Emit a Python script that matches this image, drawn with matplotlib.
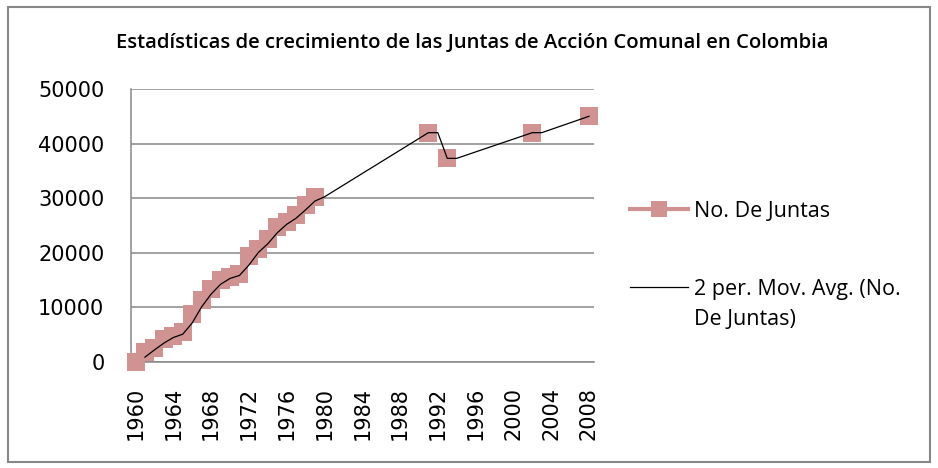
import numpy as np
import matplotlib
matplotlib.use("Agg")
import matplotlib.pyplot as plt
from matplotlib.lines import Line2D
from matplotlib.patches import Rectangle

# ---- data ----
title = "Estadísticas de crecimiento de las Juntas de Acción Comunal en Colombia"
series_label = "No. De Juntas"
ma_label_lines = ["2 per. Mov. Avg. (No.", "De Juntas)"]
obs_years = [1960, 1961, 1962, 1963, 1964, 1965, 1966, 1967, 1968, 1969,
             1970, 1971, 1972, 1973, 1974, 1975, 1976, 1977, 1978, 1979,
             1991, 1993, 2002, 2008]
obs_values = [0, 1780, 2640, 4270, 4700, 5480, 8820, 11400, 13460, 15000,
              15600, 16100, 19380, 20730, 22560, 24760, 25670, 27010, 28720, 30250,
              42000, 37300, 42000, 45000]
all_years = list(range(1960, 2009))
xtick_years = list(range(1960, 2009, 4))
yticks = [0, 10000, 20000, 30000, 40000, 50000]

# ---- series with blanks for years without data ----
full = np.full(len(all_years), np.nan)
for y, v in zip(obs_years, obs_values):
    full[all_years.index(y)] = v

# 2-period moving average (blanks ignored, as Excel does)
ma = np.full(len(all_years), np.nan)
for i in range(1, len(all_years)):
    pair = full[i - 1:i + 1]
    if np.any(~np.isnan(pair)):
        ma[i] = np.nanmean(pair)
ma_mask = ~np.isnan(ma)
ma_years = np.array(all_years)[ma_mask]
ma_vals = ma[ma_mask]

W, H = 938, 468
fig = plt.figure(figsize=(W / 100, H / 100), dpi=100)
fig.patch.set_facecolor("white")

left, right, top, bottom = 130.8, 593.7, 89, 362
ax = fig.add_axes([left / W, 1 - bottom / H, (right - left) / W, (bottom - top) / H])

pink = "#D19292"
grid_c = "#878787"

ax.plot(all_years, full, color=pink, lw=3, marker="s", markersize=13.5,
        markeredgewidth=0, markerfacecolor=pink, clip_on=False, zorder=3)
ax.plot(ma_years, ma_vals, color="black", lw=0.9, clip_on=False, zorder=4)

ax.set_xlim(1959.5, 2008.5)
ax.set_ylim(0, 50000)
ax.set_yticks(yticks)
ax.set_yticklabels([str(v) for v in yticks])
ax.set_xticks(xtick_years)
ax.set_xticklabels([str(v) for v in xtick_years], rotation=90)

ax.yaxis.grid(True, color=grid_c, lw=1.1)
ax.set_axisbelow(True)
for s in ["top", "right"]:
    ax.spines[s].set_visible(False)
for s in ["left", "bottom"]:
    ax.spines[s].set_color(grid_c)
    ax.spines[s].set_linewidth(1.1)
ax.tick_params(axis="both", length=0, labelsize=15, labelcolor="black")
ax.tick_params(axis="y", pad=19)
ax.tick_params(axis="x", pad=18)
for t in ax.get_xticklabels() + ax.get_yticklabels():
    t.set_fontfamily("DejaVu Sans")

fig.text(472 / W, 1 - 43 / H, title, ha="center", va="center",
         fontsize=14.6, fontfamily="Open Sans", fontweight="semibold")

handles = [Line2D([], [], color=pink, lw=3, marker="s", markersize=12,
                  markeredgewidth=0),
           Line2D([], [], color="black", lw=0.9)]
leg_font = {"family": "Open Sans", "size": 15.5}
leg = fig.legend(handles, [series_label, ma_label_lines[0]], loc="upper left",
                 bbox_to_anchor=(630 / W, 1 - 201 / H), frameon=False,
                 prop=leg_font,
                 handlelength=2.7, handletextpad=0.25, borderpad=0,
                 borderaxespad=0, labelspacing=2.64)

# continuation line of the wrapped second legend label
fig.canvas.draw()
bb = leg.get_texts()[1].get_window_extent()
fig.text(bb.x0 / W, (bb.y0 + bb.y1) / 2 / H - 30 / H, ma_label_lines[1],
         ha="left", va="center", fontfamily=leg_font["family"],
         fontsize=leg_font["size"])

fig.add_artist(Rectangle((8 / W, 1 - 462 / H), (930 - 8) / W, (462 - 7) / H,
                         transform=fig.transFigure, fill=False,
                         edgecolor=grid_c, lw=1.5))

fig.savefig("out.png", dpi=100)
